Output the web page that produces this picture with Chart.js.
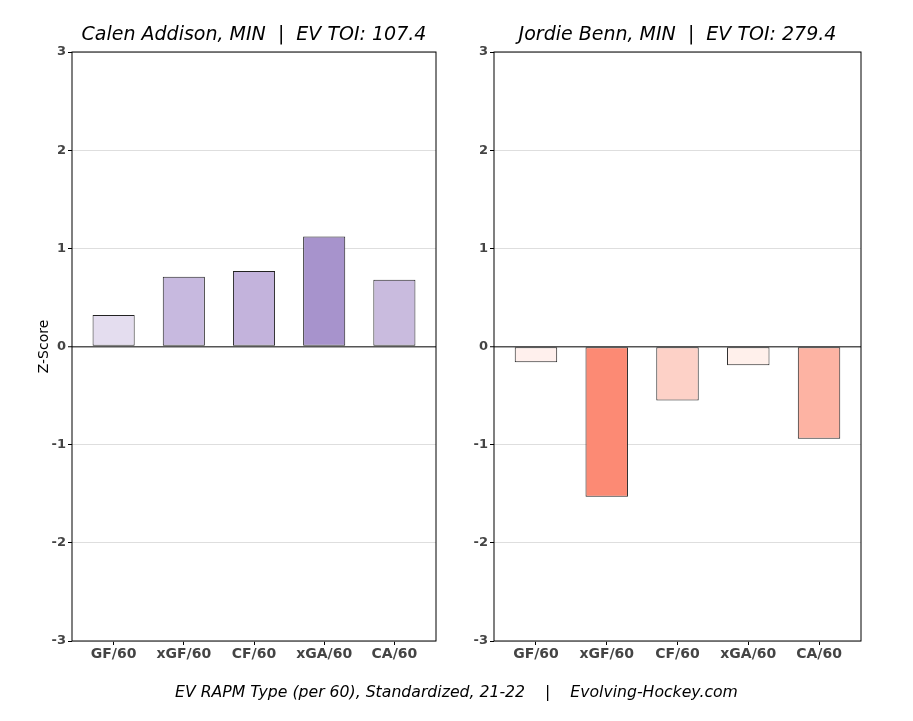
<!DOCTYPE html>
<html>
<head>
<meta charset="utf-8">
<script src="https://cdn.jsdelivr.net/npm/chart.js@4"></script>
<style>
    body { margin: 0; background: #fff; }
    #wrap { position: relative; width: 913px; height: 721px; }
    #left { position: absolute; left: 0; top: 0; }
    #right { position: absolute; left: 456px; top: 0; }
    #footer {
        position: absolute; left: 0; width: 913px; top: 682px; text-align: center;
        font-family: 'DejaVu Sans', sans-serif; font-style: italic; font-size: 15.7px;
        white-space: pre; color: #000;
    }
</style>
</head>
<body>
<div id="wrap">
    <canvas id="left" width="456" height="721"></canvas>
    <canvas id="right" width="457" height="721"></canvas>
    <div id="footer">EV RAPM Type (per 60), Standardized, 21-22    |    Evolving-Hockey.com</div>
</div>
<script>
// data
const categories = ['GF/60', 'xGF/60', 'CF/60', 'xGA/60', 'CA/60'];
const addisonValues = [0.32, 0.71, 0.77, 1.12, 0.68];
const bennValues = [-0.16, -1.53, -0.55, -0.19, -0.94];
const addisonColors = ['#e4ddef', '#c7b9df', '#c3b3dc', '#a793cc', '#c9bbde'];
const bennColors = ['#fff0ed', '#fc8a74', '#fdd1c7', '#fff0eb', '#fdb3a3'];
const yMin = -3, yMax = 3;

const FONT = "'DejaVu Sans', sans-serif";

// black frame round the plot area
const framePlugin = {
    id: 'frame',
    afterDraw(chart) {
        const { ctx, chartArea: a } = chart;
        ctx.save();
        ctx.strokeStyle = '#000';
        ctx.lineWidth = 1;
        ctx.strokeRect(a.left, a.top, a.right - a.left, a.bottom - a.top);
        ctx.restore();
    }
};

const makePanel = (id, title, values, colors, axisWidth, rightPad, showYTitle) => {
    return new Chart(document.getElementById(id), {
        type: 'bar',
        data: {
            datasets: [{
                data: values.map((v, i) => ({ x: i, y: v })),
                backgroundColor: colors,
                borderColor: '#222',
                borderWidth: 1,
                borderSkipped: false,
                barPercentage: 0.6,
                categoryPercentage: 1
            }]
        },
        options: {
            responsive: false,
            animation: false,
            layout: { padding: { top: 0, right: rightPad, bottom: 40, left: 0 } },
            plugins: {
                legend: { display: false },
                tooltip: { enabled: false },
                title: {
                    display: true,
                    text: title,
                    fullSize: false,
                    color: '#000',
                    font: { family: FONT, size: 19, style: 'italic', weight: 'normal' },
                    padding: { top: 23.6, bottom: 5.6 }
                }
            },
            scales: {
                x: {
                    type: 'linear',
                    offset: false,
                    min: -0.593,
                    max: 4.593,
                    afterBuildTicks: (scale) => {
                        scale.ticks = categories.map((c, i) => ({ value: i }));
                    },
                    afterFit: (scale) => { scale.height = 40; },
                    ticks: {
                        callback: (v) => categories[v],
                        color: '#444',
                        font: { family: FONT, size: 14, weight: 'bold' },
                        padding: 1,
                        maxRotation: 0,
                        autoSkip: false
                    },
                    grid: { offset: false, drawOnChartArea: false, tickLength: 4, tickColor: '#000', tickWidth: 1 },
                    border: { display: false }
                },
                y: {
                    min: yMin,
                    max: yMax,
                    afterFit: (scale) => { scale.width = axisWidth; },
                    ticks: {
                        stepSize: 1,
                        color: '#444',
                        font: { family: FONT, size: 13, weight: 'bold' },
                        padding: 2
                    },
                    grid: {
                        color: (c) => c.tick && c.tick.value === 0 ? '#555' : '#d6d6d6',
                        lineWidth: (c) => c.tick && c.tick.value === 0 ? 1.5 : 0.8,
                        tickLength: 4,
                        tickColor: '#000',
                        tickWidth: 1
                    },
                    border: { display: false },
                    title: {
                        display: showYTitle,
                        text: 'Z-Score',
                        color: '#000',
                        font: { family: FONT, size: 14 },
                        padding: { top: 36, bottom: 0 }
                    }
                }
            }
        },
        plugins: [framePlugin]
    });
};

makePanel('left', 'Calen Addison, MIN  |  EV TOI: 107.4', addisonValues, addisonColors, 72, 20, true);
makePanel('right', 'Jordie Benn, MIN  |  EV TOI: 279.4', bennValues, bennColors, 38, 52, false);
</script>
</body>
</html>
